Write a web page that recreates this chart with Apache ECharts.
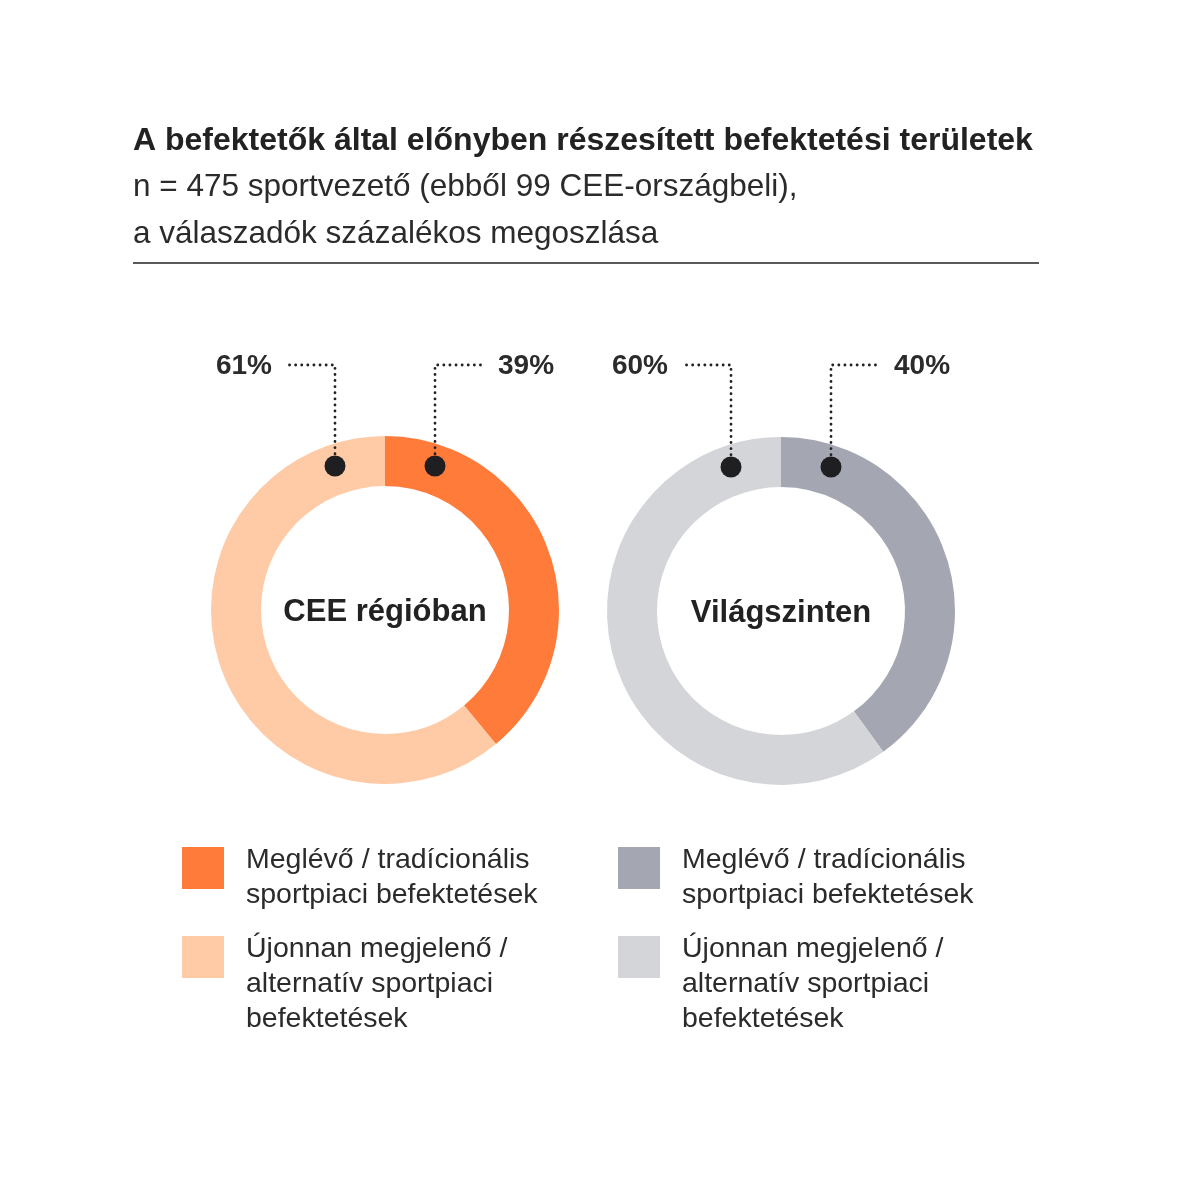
<!DOCTYPE html>
<html>

<head>
    <meta charset="utf-8">
    <title>Befektetési területek</title>
    <script src="https://cdn.jsdelivr.net/npm/echarts@6/dist/echarts.min.js"></script>
    <style>
        html, body {
            margin: 0;
            padding: 0;
            background: #fff;
        }

        #chart {
            width: 1200px;
            height: 1193px;
        }
    </style>
</head>

<body>
    <div id="chart"></div>
    <script>
        // 数据
        const regions = ['CEE régióban', 'Világszinten'];
        const segmentLines = [
            ['Meglévő / tradícionális', 'sportpiaci befektetések'],
            ['Újonnan megjelenő /', 'alternatív sportpiaci', 'befektetések']
        ];
        const ceeValues = [39, 61];      // meglévő, újonnan
        const worldValues = [40, 60];
        const ceeColors = ['#FF7B3A', '#FFCBA6'];
        const worldColors = ['#A4A7B1', '#D3D5D9'];

        const FONT = '"Liberation Sans", Arial, sans-serif';
        const centers = [[385, 610], [781, 611]];
        const rInner = 124, rOuter = 174;

        const chart = echarts.init(document.getElementById('chart'));

        function pieSeries(idx, values, colors, prefix) {
            return {
                type: 'pie',
                center: centers[idx],
                radius: [rInner, rOuter],
                startAngle: 90,
                clockwise: true,
                silent: true,
                z: 1,
                label: { show: false },
                labelLine: { show: false },
                emphasis: { disabled: true },
                data: values.map((v, i) => ({
                    name: prefix + i,
                    value: v,
                    itemStyle: { color: colors[i] }
                }))
            };
        }

        // 图例：每个条目单独一个 legend，文字顶端与色块对齐
        const gapHeights = [20, 54];
        const legendTops = [828, 899.5];
        const legends = [];
        ['cee', 'world'].forEach((prefix, col) => {
            [0, 1].forEach(i => {
                legends.push({
                    data: [prefix + i],
                    left: col === 0 ? 182 : 618,
                    top: legendTops[i],
                    padding: 0,
                    icon: 'rect',
                    itemWidth: 42,
                    itemHeight: 42,
                    selectedMode: false,
                    formatter: () => '{g| }\n' + segmentLines[i].map(s => '{t|' + s + '}').join('\n'),
                    textStyle: {
                        padding: [0, 0, 0, 17],
                        rich: {
                            g: { fontSize: 10, lineHeight: gapHeights[i] },
                            t: {
                                fontFamily: FONT,
                                fontSize: 28.5,
                                lineHeight: 35,
                                color: '#2b2b2b'
                            }
                        }
                    }
                });
            });
        });

        // 标注：圆点、虚线、百分比
        const graphics = [{
            type: 'line',
            shape: { x1: 133, y1: 263, x2: 1039, y2: 263 },
            style: { stroke: '#222', lineWidth: 1.5 }
        }];
        const allValues = [ceeValues, worldValues];
        centers.forEach((c, idx) => {
            const vals = allValues[idx];
            // 右侧（meglévő），左侧（újonnan）
            [[1, vals[0]], [-1, vals[1]]].forEach(([dir, v]) => {
                const dotX = c[0] + dir * 50;
                const dotY = c[1] - 144;
                const lineY = 365;
                graphics.push({
                    type: 'polyline',
                    z: 10,
                    shape: { points: [[dotX, dotY], [dotX, lineY], [dotX + dir * 50, lineY]] },
                    style: { stroke: '#222', lineWidth: 2.8, lineDash: [0.1, 6], lineCap: 'round', fill: null }
                });
                graphics.push({
                    type: 'circle',
                    z: 11,
                    shape: { cx: dotX, cy: dotY, r: 10.5 },
                    style: { fill: '#1f1f22' }
                });
                graphics.push({
                    type: 'text',
                    z: 10,
                    x: dotX + dir * 63,
                    y: lineY + 1,
                    style: {
                        text: v + '%',
                        font: 'bold 28px ' + FONT,
                        fill: '#2b2b2b',
                        align: dir > 0 ? 'left' : 'right',
                        verticalAlign: 'middle'
                    }
                });
            });
            graphics.push({
                type: 'text',
                z: 10,
                x: c[0],
                y: c[1] + 2,
                style: {
                    text: regions[idx],
                    font: 'bold 31px ' + FONT,
                    fill: '#222',
                    align: 'center',
                    verticalAlign: 'middle'
                }
            });
        });

        const option = {
            backgroundColor: '#fff',
            animation: false,
            title: {
                text: 'A befektetők által előnyben részesített befektetési területek',
                subtext: 'n = 475 sportvezető (ebből 99 CEE-országbeli),\na válaszadók százalékos megoszlása',
                left: 133,
                top: 123,
                padding: 0,
                itemGap: 5,
                textStyle: {
                    fontFamily: FONT,
                    fontWeight: 'bold',
                    fontSize: 32,
                    lineHeight: 36,
                    color: '#222'
                },
                subtextStyle: {
                    fontFamily: FONT,
                    fontSize: 31.5,
                    lineHeight: 47,
                    color: '#2b2b2b'
                }
            },
            legend: legends,
            graphic: graphics,
            series: [
                pieSeries(0, ceeValues, ceeColors, 'cee'),
                pieSeries(1, worldValues, worldColors, 'world')
            ]
        };

        chart.setOption(option);
    </script>
</body>

</html>
